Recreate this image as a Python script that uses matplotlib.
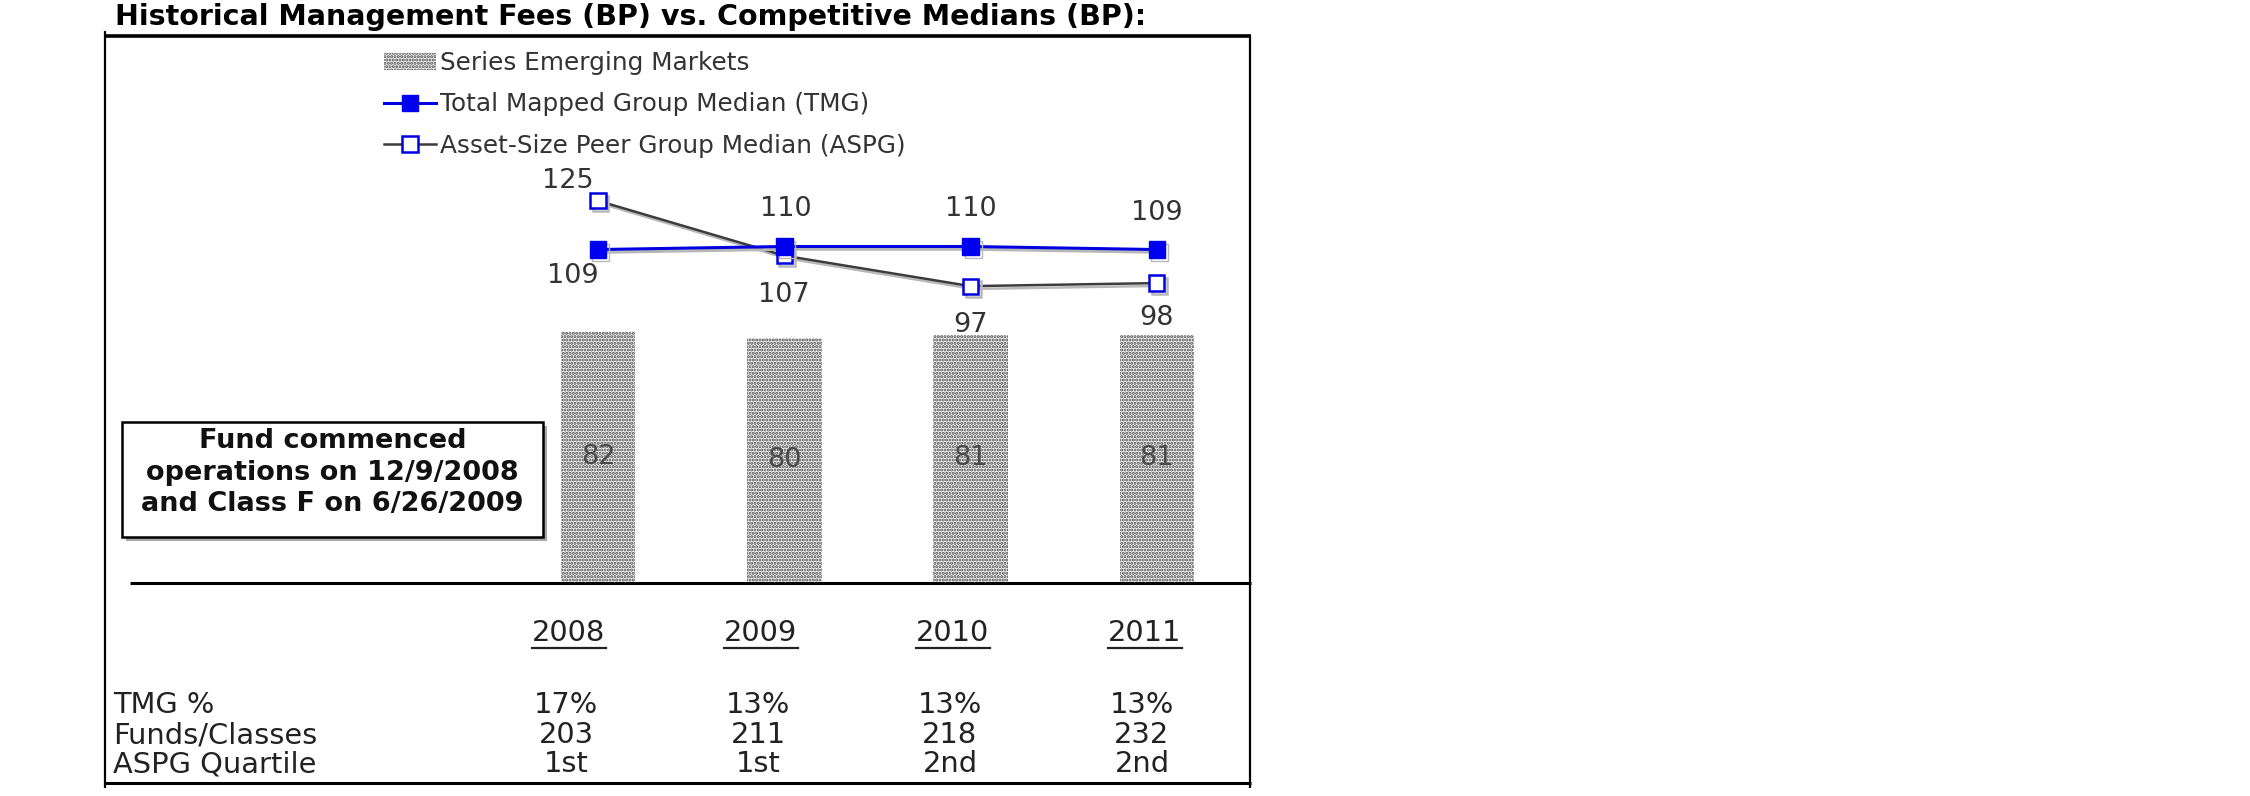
import matplotlib
matplotlib.use("Agg")
import matplotlib.pyplot as plt
from matplotlib.lines import Line2D
from matplotlib.patches import Rectangle
import matplotlib.patheffects as pe

# ---------------- data ----------------
years = ["2008", "2009", "2010", "2011"]
series_em = [82, 80, 81, 81]
tmg_median = [109, 110, 110, 109]
aspg_median = [125, 107, 97, 98]

row_labels = ["TMG %", "Funds/Classes", "ASPG Quartile"]
tmg_pct = ["17%", "13%", "13%", "13%"]
funds_classes = ["203", "211", "218", "232"]
aspg_quartile = ["1st", "1st", "2nd", "2nd"]

title = "Historical Management Fees (BP) vs. Competitive Medians (BP):"
note_lines = ["Fund commenced", "operations on 12/9/2008", "and Class F on 6/26/2009"]
legend_labels = ["Series Emerging Markets",
                 "Total Mapped Group Median (TMG)",
                 "Asset-Size Peer Group Median (ASPG)"]

# label placement (offset points) for the line values
aspg_offsets = [(-22, 14), (0, -28), (0, -28), (0, -25)]
tmg_offsets = [(-18, -19), (1, 27), (0, 27), (0, 26)]

# ---------------- figure ----------------
W, H = 2250, 796
plt.rcParams['font.family'] = ['DejaVu Sans']
plt.rcParams['hatch.linewidth'] = 1.5
fig = plt.figure(figsize=(W / 100, H / 100), dpi=100)


def fx(px):
    return px / W


def fy(py):
    return 1 - py / H


ax = fig.add_axes([fx(411.7), fy(582), fx(1250) - fx(411.7), (582 - 139.75) / H])
ax.set_xlim(-1, 3.5)
ax.set_ylim(0, 145)
ax.axis('off')

xs = list(range(len(years)))
bars = ax.bar(xs, series_em, width=0.4, color='#f6f6f6', edgecolor='#4a4a4a',
              linewidth=0, hatch='.....', zorder=1, label=legend_labels[0])
for xi, v in zip(xs, series_em):
    ax.text(xi, v / 2, f"{v}", ha='center', va='center', fontsize=19.5,
            color='#4a4a4a', zorder=2)

shadow = [pe.SimpleLineShadow(offset=(2, -2), shadow_color='#b8b8b8', alpha=1.0), pe.Normal()]
tmg_line, = ax.plot(xs, tmg_median, color='#0000e0', lw=2.2, marker='s', ms=12,
                    mfc='#0000f0', mec='#0000f0', zorder=5, label=legend_labels[1],
                    path_effects=shadow)
aspg_line, = ax.plot(xs, aspg_median, color='#3c3c3c', lw=1.8, marker='s', ms=11,
                     mfc='white', mec='#0000e0', mew=1.8, zorder=4, label=legend_labels[2],
                     path_effects=shadow)

for xi, v, off in zip(xs, aspg_median, aspg_offsets):
    ax.annotate(f"{v}", (xi, v), xytext=off, textcoords='offset points',
                ha='center', va='center', fontsize=19.5, color='#333333')
for xi, v, off in zip(xs, tmg_median, tmg_offsets):
    ax.annotate(f"{v}", (xi, v), xytext=off, textcoords='offset points',
                ha='center', va='center', fontsize=19.5, color='#333333')

leg = ax.legend([bars, tmg_line, aspg_line], legend_labels, loc='upper left',
                bbox_to_anchor=(fx(384), fy(51)), bbox_transform=fig.transFigure,
                frameon=False, fontsize=17.8, handlelength=2.1, handletextpad=0.16,
                labelspacing=0.7, borderpad=0, borderaxespad=0, labelcolor='#333333')
for h in leg.legend_handles:
    try:
        h.set_path_effects([])
    except Exception:
        pass

# ---------------- title and frame ----------------
fig.text(fx(115), fy(17), title, fontsize=20.5, fontweight='bold', ha='left',
         va='center', color='black')


def fline(x0, y0, x1, y1, lw):
    fig.add_artist(Line2D([fx(x0), fx(x1)], [fy(y0), fy(y1)], color='black', lw=lw,
                          transform=fig.transFigure, solid_capstyle='butt'))


fline(104, 36, 1251, 36, 2.6)     # top
fline(105, 31, 105, 788, 1.6)     # left
fline(1250, 36, 1250, 788, 1.6)   # right
fline(105, 783, 1251, 783, 2.2)   # bottom
fline(130, 583, 1251, 583, 2.2)   # separator

# ---------------- note box ----------------
bx0, by0, bx1, by1 = 122, 422, 543, 537
fig.add_artist(Rectangle((fx(bx0 + 4), fy(by1 + 4)), fx(bx1) - fx(bx0), (by1 - by0) / H,
                         transform=fig.transFigure, facecolor='#a8a8a8', edgecolor='none',
                         zorder=1))
fig.add_artist(Rectangle((fx(bx0), fy(by1)), fx(bx1) - fx(bx0), (by1 - by0) / H,
                         transform=fig.transFigure, facecolor='white', edgecolor='black',
                         lw=1.8, zorder=2))
for i, line in enumerate(note_lines):
    fig.text(fx((bx0 + bx1) / 2), fy(441 + 31.5 * i), line, fontsize=19.5, fontweight='bold',
             ha='center', va='center', color='#111111', zorder=3)

# ---------------- table ----------------
col_x = [566 + 192 * i for i in range(len(years))]
row_y = [705, 735, 764]
header_y = 633
renderer = fig.canvas.get_renderer()
for cx, yr in zip(col_x, years):
    t = fig.text(fx(cx + 3), fy(header_y), yr, fontsize=20.8, ha='center', va='center',
                 color='#222222')
    bb = t.get_window_extent(renderer)
    uy = bb.y0 - 1
    fig.add_artist(Line2D([bb.x0 / W, bb.x1 / W], [uy / H, uy / H], color='#222222',
                          lw=1.6, transform=fig.transFigure))

for ry, lab in zip(row_y, row_labels):
    fig.text(fx(113), fy(ry), lab, fontsize=20.8, ha='left', va='center', color='#222222')

for ry, vals in zip(row_y, [tmg_pct, funds_classes, aspg_quartile]):
    for cx, v in zip(col_x, vals):
        fig.text(fx(cx), fy(ry), v, fontsize=20.8, ha='center', va='center', color='#222222')

fig.savefig("out.png", dpi=100)
